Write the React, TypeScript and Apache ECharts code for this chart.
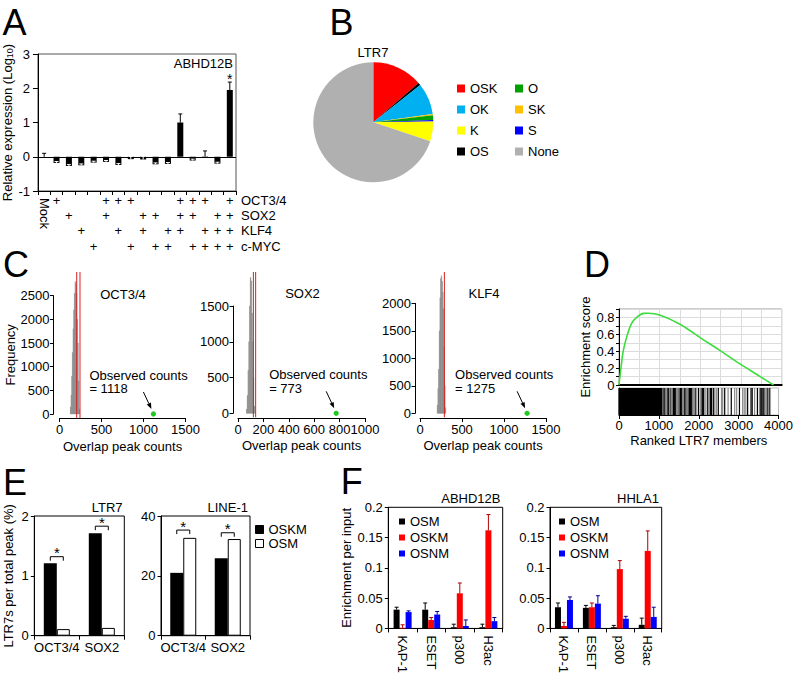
import React, { useEffect, useRef } from "react";
import * as echarts from "echarts";

const FONT = "'Liberation Sans', Arial, Helvetica, sans-serif";

// ---------- Panel A ----------
const aCategories = ["Mock", "O", "S", "K", "M", "OS", "OK", "OM", "SK", "SM", "KM", "OSK", "OSM", "OKM", "SKM", "OSKM"];
const aValues = [0.0, -0.18, -0.27, -0.25, -0.17, -0.15, -0.24, -0.07, -0.08, -0.22, -0.21, 1.0, -0.11, 0.01, -0.2, 1.95];
const aErrors = [0.1, 0.04, 0.04, 0.04, 0.04, 0.04, 0.04, 0.08, 0.1, 0.04, 0.04, 0.25, 0.04, 0.16, 0.04, 0.23];
const aSignificant = ["OSKM"];
const aFactorRows = ["OCT3/4", "SOX2", "KLF4", "c-MYC"];
const aFactorLetters = ["O", "S", "K", "M"];

// ---------- Panel B ----------
const bNames = ["OSK", "OS", "OK", "SK", "O", "S", "K", "None"];
const bValues = [13.6, 0.7, 8.5, 0.3, 1.3, 0.4, 5.3, 69.9];
const bLegendCol1 = ["OSK", "OK", "K", "OS"];
const bLegendCol2 = ["O", "SK", "S", "None"];

// ---------- Panel C ----------
const cOctBinStart = 128;
const cOctBinWidth = 8;
const cOctCounts = [150, 400, 800, 1300, 1800, 2200, 2550, 2800, 2750, 2550, 2000, 1500, 700, 100];
const cOctThresholds = [205, 244];
const cOctObserved = 1118;

const cSoxBinStart = 66;
const cSoxBinWidth = 6;
const cSoxCounts = [60, 250, 600, 1000, 1500, 1900, 1850, 1400, 1000, 500, 100];
const cSoxThresholds = [121, 139];
const cSoxObserved = 773;

const cKlfBinStart = 204;
const cKlfBinWidth = 8;
const cKlfCounts = [150, 450, 800, 1500, 2100, 2450, 2500, 2400, 2200, 1900, 1200, 500, 100];
const cKlfThresholds = [290];
const cKlfObserved = 1275;

// ---------- Panel D ----------
const dCurveRank = [0, 50, 107, 190, 310, 435, 600, 720, 1000, 1500, 2030, 2480, 2975, 3470, 3800];
const dCurveScore = [0, 0.21, 0.41, 0.57, 0.73, 0.8, 0.848, 0.85, 0.83, 0.72, 0.55, 0.41, 0.25, 0.1, 0];
const dBarcodeSolid = [[0, 1050]];
const dBarcodeBlack = [1060, 1075, 1090, 1120, 1140, 1170, 1215, 1230, 1250, 1300, 1355, 1370, 1385, 1400, 1420, 1485, 1525, 1540, 1560, 1580, 1645, 1665, 1705, 1750, 1770, 1790, 1810, 1830, 1910, 1995, 2080, 2100, 2115, 2225, 2285, 2300, 2320, 2365, 2490, 2650, 2815, 3020, 3225, 3310, 3340, 3470, 3555, 3580, 3610, 3635, 3715, 3780];
const dBarcodeGray = [1100, 1160, 1200, 1270, 1320, 1440, 1460, 1500, 1600, 1620, 1680, 1725, 1860, 1880, 1950, 2040, 2150, 2180, 2250, 2400, 2440, 2570, 2600, 2735, 2900, 2950, 3100, 3140, 3180, 3400, 3520, 3680, 3750];

// ---------- Panel E ----------
const eCategories = ["OCT3/4", "SOX2"];
const eLtr7Oskm = [1.21, 1.71];
const eLtr7Osm = [0.11, 0.13];
const eLtr7Brackets = [1.32, 1.83];
const eLine1Oskm = [21.0, 25.9];
const eLine1Osm = [32.7, 32.3];
const eLine1Brackets = [35.3, 34.4];

// ---------- Panel F ----------
const fCategories = ["KAP-1", "ESET", "p300", "H3ac"];
const fAbhdOsm = [0.031, 0.031, 0.002, 0.002];
const fAbhdOsmErr = [0.004, 0.011, 0.005, 0.005];
const fAbhdOskm = [0.001, 0.014, 0.058, 0.162];
const fAbhdOskmErr = [0.005, 0.004, 0.017, 0.026];
const fAbhdOsnm = [0.027, 0.023, 0.004, 0.012];
const fAbhdOsnmErr = [0.002, 0.005, 0.01, 0.006];
const fHhlaOsm = [0.035, 0.034, 0.002, 0.006];
const fHhlaOsmErr = [0.007, 0.004, 0.003, 0.011];
const fHhlaOskm = [0.004, 0.035, 0.098, 0.128];
const fHhlaOskmErr = [0.006, 0.007, 0.014, 0.033];
const fHhlaOsnm = [0.047, 0.041, 0.016, 0.019];
const fHhlaOsnmErr = [0.005, 0.013, 0.004, 0.016];

// ---------- styling ----------
const PIE_COLORS: Record<string, string> = {
  OSK: "#ff0000", OS: "#000000", OK: "#00b0f0", SK: "#ffc000",
  O: "#00a000", S: "#0000ff", K: "#ffff00", None: "#b0b0b0",
};
const C_RED_TOP = 272;

function tstyle(text: string, size: number, align: string, extra: any = {}) {
  return {
    text, fill: "#000", fontSize: size, fontFamily: FONT,
    align, verticalAlign: "middle", textAlign: align, textVerticalAlign: "middle", ...extra,
  };
}
function gtext(text: string, x: number, y: number, size: number, align = "center") {
  return { type: "text", x, y, silent: true, style: tstyle(text, size, align) };
}

const plain = (v: number) => String(v);
const lineBlack = { show: true, onZero: false, lineStyle: { color: "#000", width: 1 } };
const tickOut = (len: number, extra: any = {}) => ({ show: true, length: len, lineStyle: { color: "#000" }, ...extra });
const lbl = (margin: number, extra: any = {}) => ({ color: "#000", fontSize: 13, fontFamily: FONT, margin, ...extra });
const nameStyle = { color: "#000", fontSize: 13, fontFamily: FONT };

function errorBarSeries(xi: number, yi: number, values: number[], errs: number[], offset: number, color: string, capW = 4) {
  return {
    type: "custom", xAxisIndex: xi, yAxisIndex: yi, silent: true, z: 5, clip: false,
    data: values.map((v, i) => [i, v, errs[i]]),
    renderItem: (params: any, api: any) => {
      const i = api.value(0), v = api.value(1), e = api.value(2);
      if (!e) return null;
      const p0 = api.coord([i, v]);
      const p1 = api.coord([i, v + e]);
      const x = p0[0] + offset;
      const stroke = v < 0 ? "#ffffff" : color;
      return {
        type: "group",
        children: [
          { type: "line", shape: { x1: x, y1: p0[1], x2: x, y2: p1[1] }, style: { stroke, lineWidth: 1 } },
          { type: "line", shape: { x1: x - capW / 2, y1: p1[1], x2: x + capW / 2, y2: p1[1] }, style: { stroke, lineWidth: 1 } },
        ],
      };
    },
  };
}

function histSeries(xi: number, yi: number, start: number, width: number, counts: number[]) {
  return {
    type: "custom", xAxisIndex: xi, yAxisIndex: yi, silent: true, clip: false, z: 3,
    data: counts.map((c, i) => [start + i * width, start + (i + 1) * width, c]),
    renderItem: (params: any, api: any) => {
      const a = api.coord([api.value(0), api.value(2)]);
      const b = api.coord([api.value(1), 0]);
      return {
        type: "rect",
        shape: { x: a[0], y: a[1], width: Math.max(0.5, b[0] - a[0]), height: b[1] - a[1] },
        style: { fill: "#999999", stroke: "#7a7a7a", lineWidth: 0.3 },
      };
    },
  };
}

function redLineSeries(xi: number, yi: number, xs: number[]) {
  return {
    type: "custom", xAxisIndex: xi, yAxisIndex: yi, silent: true, clip: false, z: 4,
    data: xs.map((x) => [x, 0]),
    renderItem: (params: any, api: any) => {
      const b = api.coord([api.value(0), api.value(1)]);
      return { type: "line", shape: { x1: b[0], y1: b[1] + 4, x2: b[0], y2: C_RED_TOP }, style: { stroke: "#d81e1e", lineWidth: 1 } };
    },
  };
}

function observedSeries(xi: number, yi: number, value: number, textDx: number) {
  return {
    type: "custom", xAxisIndex: xi, yAxisIndex: yi, silent: true, clip: false, z: 6,
    data: [[value, 0]],
    renderItem: (params: any, api: any) => {
      const c = api.coord([api.value(0), api.value(1)]);
      const x = c[0], y = c[1];
      const sx = x - 10, sy = y - 22, tx = x - 2, ty = y - 5;
      const dx = tx - sx, dy = ty - sy, L = Math.sqrt(dx * dx + dy * dy);
      const ux = dx / L, uy = dy / L, nx = -uy, ny = ux;
      const bx = tx - ux * 6, by = ty - uy * 6;
      return {
        type: "group",
        children: [
          { type: "text", x: x + textDx, y: y - 32, style: tstyle("Observed counts\n= " + value, 13, "left", { lineHeight: 13.5 }) },
          { type: "line", shape: { x1: sx, y1: sy, x2: bx, y2: by }, style: { stroke: "#000", lineWidth: 1 } },
          { type: "polygon", shape: { points: [[tx, ty], [bx + nx * 2.3, by + ny * 2.3], [bx - nx * 2.3, by - ny * 2.3]] }, style: { fill: "#000" } },
          { type: "circle", shape: { cx: x, cy: y, r: 2.6 }, style: { fill: "#22c822" } },
        ],
      };
    },
  };
}

function bracketSeries(xi: number, yi: number, ys: number[], halfW: number) {
  return {
    type: "custom", xAxisIndex: xi, yAxisIndex: yi, silent: true, clip: false, z: 6,
    data: ys.map((y, i) => [i, y]),
    renderItem: (params: any, api: any) => {
      const c = api.coord([api.value(0), api.value(1)]);
      const x = c[0], y = c[1];
      return {
        type: "group",
        children: [
          { type: "polyline", shape: { points: [[x - halfW, y + 4], [x - halfW, y], [x + halfW, y], [x + halfW, y + 4]] }, style: { stroke: "#000", fill: null, lineWidth: 1 } },
          { type: "text", x, y: y - 4, style: tstyle("*", 15, "center") },
        ],
      };
    },
  };
}

function starSeries(xi: number, yi: number) {
  return {
    type: "custom", xAxisIndex: xi, yAxisIndex: yi, silent: true, clip: false, z: 6,
    data: aSignificant.map((name) => {
      const i = aCategories.indexOf(name);
      return [i, aValues[i] + aErrors[i]];
    }),
    renderItem: (params: any, api: any) => {
      const c = api.coord([api.value(0), api.value(1)]);
      return { type: "text", x: c[0], y: c[1] - 3, style: tstyle("*", 14, "center") };
    },
  };
}

function barcodeSeries(xi: number, yi: number) {
  const data: any[] = [];
  dBarcodeSolid.forEach((s) => data.push([s[0], s[1], 0]));
  dBarcodeBlack.forEach((p) => data.push([p, p, 0]));
  dBarcodeGray.forEach((p) => data.push([p, p, 1]));
  return {
    type: "custom", xAxisIndex: xi, yAxisIndex: yi, silent: true, z: 3,
    data,
    renderItem: (params: any, api: any) => {
      const a = api.coord([api.value(0), 1]);
      const b = api.coord([api.value(1), 0]);
      return {
        type: "rect",
        shape: { x: a[0] - 0.6, y: a[1], width: b[0] - a[0] + 1.2, height: b[1] - a[1] },
        style: { fill: api.value(2) === 1 ? "#8a8a8a" : "#000" },
      };
    },
  };
}

function buildOption(): any {
  const grid = [
    { left: 35, top: 54, width: 201, height: 137, show: true, borderColor: "#555", borderWidth: 1 }, // 0 A
    { left: 59.5, top: 295.7, width: 126, height: 118.3 }, // 1 C1
    { left: 238, top: 306, width: 127, height: 107.3 }, // 2 C2
    { left: 420, top: 303.3, width: 126, height: 110 }, // 3 C3
    { left: 619, top: 309, width: 162.7, height: 76, show: true, borderColor: "#999", borderWidth: 1 }, // 4 D1
    { left: 619, top: 388, width: 162.7, height: 27, show: true, borderColor: "#bbb", borderWidth: 1 }, // 5 D2
    { left: 34.3, top: 516, width: 90, height: 119.7, show: true, borderColor: "#000", borderWidth: 1 }, // 6 E1
    { left: 161, top: 516, width: 89, height: 119.7, show: true, borderColor: "#000", borderWidth: 1 }, // 7 E2
    { left: 388.3, top: 507.3, width: 114.4, height: 123.7, show: true, borderColor: "#000", borderWidth: 1 }, // 8 F1
    { left: 550, top: 507.3, width: 111.7, height: 123.7, show: true, borderColor: "#000", borderWidth: 1 }, // 9 F2
  ];

  const plusOffsets = [2.5, 17.8, 33.2, 48.5];
  const xAxis: any[] = [
    {
      gridIndex: 0, type: "category", data: aCategories, axisLine: lineBlack, axisTick: tickOut(4),
      axisLabel: lbl(7, { interval: 0, rotate: -90, formatter: (v: string) => (v === "Mock" ? "Mock" : "") }),
      splitLine: { show: false },
    },
    ...aFactorLetters.map((letter, r) => ({
      gridIndex: 0, type: "category", position: "bottom", offset: plusOffsets[r], data: aCategories,
      axisLine: { show: false }, axisTick: { show: false }, splitLine: { show: false },
      axisLabel: lbl(0, { interval: 0, formatter: (v: string) => (v !== "Mock" && v.indexOf(letter) >= 0 ? "+" : "") }),
    })),
    {
      gridIndex: 1, type: "value", min: 0, max: 1500, interval: 500, offset: 4, axisLine: lineBlack, axisTick: tickOut(4),
      axisLabel: lbl(5, { formatter: plain }), splitLine: { show: false },
      name: "Overlap peak counts", nameLocation: "middle", nameGap: 22, nameTextStyle: nameStyle,
    },
    {
      gridIndex: 2, type: "value", min: 0, max: 1000, interval: 200, offset: 4.7, axisLine: lineBlack, axisTick: tickOut(4),
      axisLabel: lbl(5, { formatter: plain }), splitLine: { show: false },
      name: "Overlap peak counts", nameLocation: "middle", nameGap: 21.3, nameTextStyle: nameStyle,
    },
    {
      gridIndex: 3, type: "value", min: 0, max: 1500, interval: 500, offset: 4.7, axisLine: lineBlack, axisTick: tickOut(4),
      axisLabel: lbl(5, { formatter: plain }), splitLine: { show: false },
      name: "Overlap peak counts", nameLocation: "middle", nameGap: 21.3, nameTextStyle: nameStyle,
    },
    {
      gridIndex: 4, type: "value", min: 0, max: 4000, interval: 500, axisLine: { show: true, onZero: false, lineStyle: { color: "#000", width: 2 } },
      axisTick: { show: false }, axisLabel: { show: false }, splitLine: { show: true, lineStyle: { color: "#dcdcdc", width: 1 } },
    },
    {
      gridIndex: 5, type: "value", min: 0, max: 4000, interval: 1000, axisLine: lineBlack, axisTick: tickOut(4),
      axisLabel: lbl(4, { formatter: plain }), splitLine: { show: false },
      name: "Ranked LTR7 members", nameLocation: "middle", nameGap: 18.5, nameTextStyle: nameStyle,
    },
    {
      gridIndex: 6, type: "category", data: eCategories, axisLine: lineBlack, axisTick: tickOut(4),
      axisLabel: lbl(5, { interval: 0 }), splitLine: { show: false },
    },
    {
      gridIndex: 7, type: "category", data: eCategories, axisLine: lineBlack, axisTick: tickOut(4),
      axisLabel: lbl(5, { interval: 0 }), splitLine: { show: false },
    },
    {
      gridIndex: 8, type: "category", data: fCategories, axisLine: lineBlack, axisTick: tickOut(4),
      axisLabel: lbl(7, { interval: 0, rotate: -90 }), splitLine: { show: false },
    },
    {
      gridIndex: 9, type: "category", data: fCategories, axisLine: lineBlack, axisTick: tickOut(4),
      axisLabel: lbl(7, { interval: 0, rotate: -90 }), splitLine: { show: false },
    },
  ];

  const yAxis: any[] = [
    {
      gridIndex: 0, type: "value", min: -1, max: 3, interval: 1, axisLine: lineBlack, axisTick: tickOut(5),
      axisLabel: lbl(8), splitLine: { show: false },
      name: "Relative expression (Log{sub|10})", nameLocation: "middle", nameGap: 14, nameRotate: 90,
      nameTextStyle: { ...nameStyle, rich: { sub: { fontSize: 9, fontFamily: FONT, color: "#000", verticalAlign: "bottom", padding: [5, 0, 0, 0] } } },
    },
    {
      gridIndex: 1, type: "value", min: 0, max: 2500, interval: 500, offset: 6, axisLine: lineBlack, axisTick: tickOut(3.5),
      axisLabel: lbl(4, { formatter: plain }), splitLine: { show: false },
      name: "Frequency", nameLocation: "middle", nameGap: 35, nameRotate: 90, nameTextStyle: nameStyle,
    },
    {
      gridIndex: 2, type: "value", min: 0, max: 1500, interval: 500, offset: 5, axisLine: lineBlack, axisTick: tickOut(3.5),
      axisLabel: lbl(4, { formatter: plain }), splitLine: { show: false },
    },
    {
      gridIndex: 3, type: "value", min: 0, max: 2000, interval: 500, offset: 5, axisLine: lineBlack, axisTick: tickOut(3.5),
      axisLabel: lbl(4, { formatter: plain }), splitLine: { show: false },
    },
    {
      gridIndex: 4, type: "value", min: 0, max: 0.9, interval: 0.1, axisLine: lineBlack, axisTick: tickOut(3),
      axisLabel: lbl(4.5, {
        formatter: (v: number) => {
          const t = Math.round(v * 10);
          if (t % 2 !== 0 || t > 8) return "";
          return t === 0 ? "0" : (t / 10).toFixed(1);
        },
      }),
      splitLine: { show: true, lineStyle: { color: "#dcdcdc", width: 1 } },
      name: "Enrichment score", nameLocation: "middle", nameGap: 27, nameRotate: 90, nameTextStyle: nameStyle,
    },
    {
      gridIndex: 5, type: "value", min: 0, max: 1, axisLine: lineBlack, axisTick: { show: false },
      axisLabel: { show: false }, splitLine: { show: false },
    },
    {
      gridIndex: 6, type: "value", min: 0, max: 2, interval: 1, axisLine: lineBlack, axisTick: tickOut(3.5),
      axisLabel: lbl(5.5), splitLine: { show: false },
      name: "LTR7s per total peak (%)", nameLocation: "middle", nameGap: 19.5, nameRotate: 90, nameTextStyle: nameStyle,
    },
    {
      gridIndex: 7, type: "value", min: 0, max: 40, interval: 20, axisLine: lineBlack, axisTick: tickOut(3.5),
      axisLabel: lbl(5.5), splitLine: { show: false },
    },
    {
      gridIndex: 8, type: "value", min: 0, max: 0.2, interval: 0.05, axisLine: lineBlack, axisTick: tickOut(3.5),
      axisLabel: lbl(5.5), splitLine: { show: false },
      name: "Enrichment per input", nameLocation: "middle", nameGap: 35, nameRotate: 90, nameTextStyle: nameStyle,
    },
    {
      gridIndex: 9, type: "value", min: 0, max: 0.2, interval: 0.05, axisLine: lineBlack, axisTick: tickOut(3.5),
      axisLabel: lbl(5.5), splitLine: { show: false },
    },
  ];

  const series: any[] = [];

  // A
  series.push({
    name: "ABHD12B expression", type: "bar", xAxisIndex: 0, yAxisIndex: 0, data: aValues, barWidth: 6,
    itemStyle: { color: "#000" },
    markLine: {
      silent: true, symbol: ["none", "none"], label: { show: false },
      lineStyle: { color: "#000", width: 1, type: "solid" }, data: [{ yAxis: 0 }],
    },
  });
  series.push(errorBarSeries(0, 0, aValues, aErrors, 0, "#000", 4));
  series.push(starSeries(0, 0));

  // B
  series.push({
    name: "LTR7", type: "pie", center: [373.3, 122.3], radius: 60, startAngle: 90, clockwise: true,
    label: { show: false }, labelLine: { show: false }, silent: true,
    data: bNames.map((n, i) => ({ name: n, value: bValues[i], itemStyle: { color: PIE_COLORS[n] } })),
  });

  // C
  series.push(histSeries(5, 1, cOctBinStart, cOctBinWidth, cOctCounts));
  series.push(redLineSeries(5, 1, cOctThresholds));
  series.push(observedSeries(5, 1, cOctObserved, -64));
  series.push(histSeries(6, 2, cSoxBinStart, cSoxBinWidth, cSoxCounts));
  series.push(redLineSeries(6, 2, cSoxThresholds));
  series.push(observedSeries(6, 2, cSoxObserved, -67));
  series.push(histSeries(7, 3, cKlfBinStart, cKlfBinWidth, cKlfCounts));
  series.push(redLineSeries(7, 3, cKlfThresholds));
  series.push(observedSeries(7, 3, cKlfObserved, -72));

  // D
  series.push({
    name: "Enrichment", type: "line", xAxisIndex: 8, yAxisIndex: 4, smooth: 0.35, showSymbol: false, silent: true,
    lineStyle: { color: "#3ddc3d", width: 1.6 }, itemStyle: { color: "#3ddc3d" },
    data: dCurveRank.map((r, i) => [r, dCurveScore[i]]), z: 5,
  });
  series.push(barcodeSeries(9, 5));

  // E
  series.push({ name: "OSKM", type: "bar", xAxisIndex: 10, yAxisIndex: 6, data: eLtr7Oskm, barWidth: 13, barGap: "0%", itemStyle: { color: "#000" } });
  series.push({ name: "OSM", type: "bar", xAxisIndex: 10, yAxisIndex: 6, data: eLtr7Osm, barWidth: 13, barGap: "0%", itemStyle: { color: "#fff", borderColor: "#000", borderWidth: 1 } });
  series.push(bracketSeries(10, 6, eLtr7Brackets, 6.5));
  series.push({ name: "OSKM", type: "bar", xAxisIndex: 11, yAxisIndex: 7, data: eLine1Oskm, barWidth: 13, barGap: "0%", itemStyle: { color: "#000" } });
  series.push({ name: "OSM", type: "bar", xAxisIndex: 11, yAxisIndex: 7, data: eLine1Osm, barWidth: 13, barGap: "0%", itemStyle: { color: "#fff", borderColor: "#000", borderWidth: 1 } });
  series.push(bracketSeries(11, 7, eLine1Brackets, 6.5));

  // F
  const fPanels = [
    { xi: 12, yi: 8, osm: fAbhdOsm, osmE: fAbhdOsmErr, oskm: fAbhdOskm, oskmE: fAbhdOskmErr, osnm: fAbhdOsnm, osnmE: fAbhdOsnmErr },
    { xi: 13, yi: 9, osm: fHhlaOsm, osmE: fHhlaOsmErr, oskm: fHhlaOskm, oskmE: fHhlaOskmErr, osnm: fHhlaOsnm, osnmE: fHhlaOsnmErr },
  ];
  fPanels.forEach((p) => {
    series.push({ name: "OSM", type: "bar", xAxisIndex: p.xi, yAxisIndex: p.yi, data: p.osm, barWidth: 6, barGap: "0%", itemStyle: { color: "#000" } });
    series.push({ name: "OSKM", type: "bar", xAxisIndex: p.xi, yAxisIndex: p.yi, data: p.oskm, barWidth: 6, barGap: "0%", itemStyle: { color: "#ff0000" } });
    series.push({ name: "OSNM", type: "bar", xAxisIndex: p.xi, yAxisIndex: p.yi, data: p.osnm, barWidth: 6, barGap: "0%", itemStyle: { color: "#0000ff" } });
    series.push(errorBarSeries(p.xi, p.yi, p.osm, p.osmE, -6, "#000", 4));
    series.push(errorBarSeries(p.xi, p.yi, p.oskm, p.oskmE, 0, "#b00000", 4));
    series.push(errorBarSeries(p.xi, p.yi, p.osnm, p.osnmE, 6, "#000090", 4));
  });

  const legText = { fontSize: 13, color: "#000", fontFamily: FONT };
  const legend: any[] = [
    { selectedMode: false, orient: "vertical", left: 452, top: 77, itemWidth: 8, itemHeight: 8, itemGap: 8, icon: "rect", textStyle: legText, data: bLegendCol1 },
    { selectedMode: false, orient: "vertical", left: 510, top: 77, itemWidth: 8, itemHeight: 8, itemGap: 8, icon: "rect", textStyle: legText, data: bLegendCol2 },
    {
      selectedMode: false, orient: "vertical", left: 250, top: 518, itemWidth: 8, itemHeight: 8, itemGap: 1, icon: "rect", textStyle: legText,
      data: [
        { name: "OSKM", itemStyle: { color: "#000", borderColor: "#000", borderWidth: 1 } },
        { name: "OSM", itemStyle: { color: "#fff", borderColor: "#000", borderWidth: 1 } },
      ],
    },
    ...[394, 554].map((left) => ({
      selectedMode: false, orient: "vertical", left, top: 510, itemWidth: 6, itemHeight: 6, itemGap: 3, icon: "rect", textStyle: legText,
      data: [
        { name: "OSM", itemStyle: { color: "#000", borderWidth: 0 } },
        { name: "OSKM", itemStyle: { color: "#ff0000", borderWidth: 0 } },
        { name: "OSNM", itemStyle: { color: "#0000ff", borderWidth: 0 } },
      ],
    })),
  ];

  const graphic: any[] = [
    gtext("A", 14.5, 22.5, 36),
    gtext("B", 341.5, 22.5, 36),
    gtext("C", 16, 264, 36),
    gtext("D", 597, 264, 36),
    gtext("E", 15, 482.5, 36),
    gtext("F", 351.7, 481.5, 36),
    gtext("ABHD12B", 233, 63.5, 13, "right"),
    gtext("LTR7", 373, 52, 13),
    gtext("OCT3/4", 123, 294, 13),
    gtext("SOX2", 302.5, 293, 13),
    gtext("KLF4", 484, 293, 13),
    gtext("LTR7", 122.5, 507, 13, "right"),
    gtext("LINE-1", 248, 507, 13, "right"),
    gtext("ABHD12B", 500.5, 498.3, 13, "right"),
    gtext("HHLA1", 659, 498, 13, "right"),
    ...aFactorRows.map((name, r) => gtext(name, 241, [200, 215.3, 230.7, 246][r], 13, "left")),
  ];

  return {
    animation: false,
    backgroundColor: "#fff",
    textStyle: { fontFamily: FONT, color: "#000" },
    grid, xAxis, yAxis, series, legend, graphic,
  };
}

export default function App() {
  const ref = useRef<HTMLDivElement>(null);
  useEffect(() => {
    const chart = echarts.init(ref.current as HTMLDivElement, null, { renderer: "svg" });
    chart.setOption(buildOption());
    return () => chart.dispose();
  }, []);
  return (
    <div
      ref={ref}
      style={{ position: "absolute", left: 0, top: 0, width: 796, height: 676, background: "#fff" }}
    />
  );
}
